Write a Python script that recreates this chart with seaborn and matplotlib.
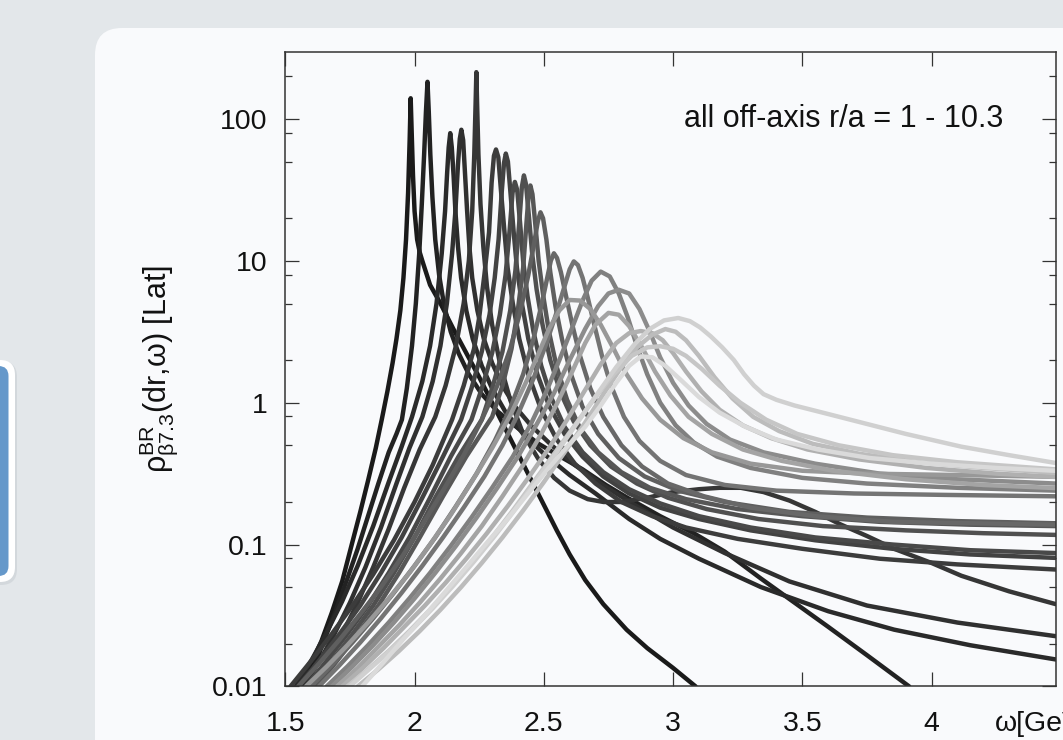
import matplotlib
matplotlib.use("Agg")
import matplotlib.pyplot as plt
from matplotlib.patches import FancyBboxPatch
from matplotlib.ticker import FixedLocator, LogLocator, NullFormatter
import numpy as np
import pandas as pd
import seaborn as sns

# Spectral functions, one per off-axis separation (small r/a -> large r/a).
# omega_XX: frequency in GeV; lg_XX: log10 of rho at that frequency.
omega_01 = [1.56, 1.60, 1.64, 1.68, 1.72, 1.757, 1.79, 1.82, 1.85, 1.873, 1.895, 1.915, 1.93, 1.945, 1.957,
            1.967, 1.975, 1.981, 1.985, 1.989, 1.994, 2.0, 2.01, 2.02, 2.03, 2.06, 2.1, 2.15, 2.2, 2.25,
            2.3, 2.35, 2.4, 2.45, 2.5, 2.55, 2.6, 2.66, 2.73, 2.82, 2.9, 3.0, 3.087]
lg_01 = [-2, -1.84, -1.68, -1.48, -1.26, -1.0, -0.77, -0.55, -0.32, -0.12, 0.08, 0.28, 0.45, 0.65, 0.88,
         1.15, 1.48, 1.85, 2.146, 1.9, 1.6, 1.35, 1.15, 1.06, 1.0, 0.83, 0.70, 0.52, 0.35, 0.18,
         0.0, -0.18, -0.36, -0.54, -0.72, -0.9, -1.07, -1.25, -1.42, -1.6, -1.73, -1.87, -2.0]

omega_02 = [1.58, 1.62, 1.66, 1.70, 1.74, 1.78, 1.82, 1.86, 1.90, 1.93, 1.951, 1.97, 1.99, 2.005, 2.018,
            2.028, 2.037, 2.044, 2.05, 2.055, 2.061, 2.069, 2.08, 2.095, 2.115, 2.14, 2.17, 2.21, 2.26, 2.32,
            2.4, 2.48, 2.564, 2.65, 2.74, 2.823, 2.95, 3.08, 3.2, 3.34, 3.47, 3.6, 3.75, 3.913]
lg_02 = [-2, -1.82, -1.63, -1.44, -1.24, -1.03, -0.8, -0.57, -0.35, -0.22, -0.12, 0.1, 0.4, 0.7, 1.05,
         1.4, 1.75, 2.05, 2.262, 2.05, 1.75, 1.45, 1.15, 0.9, 0.68, 0.5, 0.35, 0.2, 0.06, -0.06,
         -0.18, -0.29, -0.38, -0.47, -0.58, -0.67, -0.8, -0.92, -1.05, -1.24, -1.41, -1.58, -1.78, -2.0]

omega_03 = [1.54, 1.60, 1.66, 1.72, 1.78, 1.84, 1.90, 1.95, 1.99, 2.03, 2.06, 2.085, 2.105, 2.118, 2.126,
            2.132, 2.138, 2.144, 2.151, 2.158, 2.168, 2.18, 2.2, 2.225, 2.26, 2.3, 2.35, 2.42, 2.5, 2.6,
            2.7, 2.83, 2.95, 3.1, 3.34, 3.6, 3.855, 4.15, 4.48]
lg_03 = [-2, -1.82, -1.62, -1.40, -1.15, -0.87, -0.56, -0.31, -0.1, 0.15, 0.4, 0.7, 1.05, 1.35, 1.62,
         1.8, 1.9, 1.8, 1.6, 1.35, 1.1, 0.88, 0.65, 0.45, 0.26, 0.1, -0.06, -0.22, -0.36, -0.51,
         -0.64, -0.82, -0.96, -1.1, -1.3, -1.47, -1.6, -1.71, -1.81]

omega_04 = [1.57, 1.63, 1.69, 1.75, 1.81, 1.87, 1.93, 1.98, 2.03, 2.07, 2.1, 2.125, 2.145, 2.158, 2.168,
            2.175, 2.181, 2.188, 2.195, 2.203, 2.212, 2.223, 2.243, 2.268, 2.3, 2.34, 2.39, 2.45, 2.53, 2.62,
            2.72, 2.85, 3.0, 3.2, 3.45, 3.75, 4.1, 4.48]
lg_04 = [-2, -1.83, -1.63, -1.41, -1.16, -0.88, -0.57, -0.32, -0.1, 0.15, 0.4, 0.7, 1.05, 1.35, 1.68,
         1.86, 1.924, 1.85, 1.62, 1.36, 1.1, 0.88, 0.65, 0.45, 0.28, 0.12, -0.03, -0.16, -0.3, -0.44,
         -0.57, -0.72, -0.88, -1.06, -1.26, -1.43, -1.55, -1.646]

omega_05 = [1.60, 1.66, 1.72, 1.78, 1.84, 1.9, 1.96, 2.02, 2.08, 2.12, 2.16, 2.19, 2.21, 2.223, 2.231,
            2.236, 2.239, 2.242, 2.247, 2.255, 2.266, 2.28, 2.3, 2.33, 2.37, 2.42, 2.48, 2.54, 2.6, 2.67,
            2.731, 2.8, 2.9, 3.0, 3.1, 3.18, 3.262, 3.35, 3.45, 3.55, 3.65, 3.75, 3.855, 4.0, 4.115,
            4.3, 4.48]
lg_05 = [-2, -1.83, -1.63, -1.41, -1.16, -0.89, -0.6, -0.33, -0.1, 0.12, 0.4, 0.7, 1.0, 1.35, 1.75,
         2.1, 2.33, 2.1, 1.75, 1.4, 1.1, 0.82, 0.55, 0.28, 0.02, -0.22, -0.4, -0.53, -0.62, -0.68,
         -0.7, -0.7, -0.67, -0.63, -0.61, -0.6, -0.6, -0.63, -0.69, -0.77, -0.86, -0.94, -1.03, -1.13, -1.22,
         -1.33, -1.42]

omega_06 = [1.52, 1.6, 1.68, 1.76, 1.84, 1.92, 2.0, 2.07, 2.145, 2.19, 2.23, 2.25, 2.27, 2.288, 2.298,
            2.307, 2.315, 2.324, 2.334, 2.347, 2.36, 2.38, 2.405, 2.44, 2.49, 2.55, 2.62, 2.7, 2.8, 2.92,
            3.05, 3.25, 3.5, 3.8, 4.1, 4.48]
lg_06 = [-2, -1.82, -1.63, -1.43, -1.21, -0.97, -0.7, -0.44, -0.12, 0.12, 0.38, 0.6, 0.9, 1.2, 1.55,
         1.74, 1.785, 1.73, 1.5, 1.22, 0.95, 0.7, 0.45, 0.2, -0.05, -0.26, -0.43, -0.57, -0.7, -0.8,
         -0.88, -0.96, -1.03, -1.1, -1.14, -1.176]

omega_07 = [1.55, 1.63, 1.71, 1.79, 1.87, 1.95, 2.03, 2.11, 2.18, 2.22, 2.26, 2.29, 2.31, 2.325, 2.337,
            2.346, 2.353, 2.361, 2.371, 2.383, 2.396, 2.415, 2.44, 2.475, 2.52, 2.58, 2.65, 2.73, 2.83, 2.95,
            3.1, 3.3, 3.55, 3.85, 4.15, 4.48]
lg_07 = [-2, -1.82, -1.63, -1.43, -1.2, -0.95, -0.67, -0.38, -0.12, 0.1, 0.36, 0.62, 0.88, 1.15, 1.48,
         1.69, 1.756, 1.7, 1.48, 1.21, 0.95, 0.7, 0.45, 0.2, -0.02, -0.22, -0.38, -0.52, -0.64, -0.74,
         -0.82, -0.9, -0.97, -1.03, -1.07, -1.094]

omega_08 = [1.58, 1.66, 1.74, 1.82, 1.9, 1.98, 2.06, 2.14, 2.22, 2.26, 2.3, 2.33, 2.352, 2.368, 2.379,
            2.388, 2.397, 2.408, 2.42, 2.437, 2.46, 2.49, 2.53, 2.58, 2.65, 2.73, 2.83, 2.95, 3.1, 3.3,
            3.55, 3.85, 4.15, 4.48]
lg_08 = [-2, -1.82, -1.63, -1.43, -1.2, -0.95, -0.67, -0.38, -0.12, 0.1, 0.35, 0.62, 0.9, 1.22, 1.48,
         1.556, 1.5, 1.27, 1.0, 0.75, 0.5, 0.26, 0.03, -0.17, -0.35, -0.49, -0.61, -0.71, -0.8, -0.88,
         -0.95, -1.0, -1.04, -1.06]

omega_09 = [1.6, 1.68, 1.76, 1.84, 1.92, 2.0, 2.08, 2.17, 2.26, 2.3, 2.34, 2.37, 2.39, 2.405, 2.415,
            2.423, 2.431, 2.442, 2.455, 2.472, 2.495, 2.525, 2.565, 2.615, 2.68, 2.76, 2.86, 2.98, 3.13, 3.33,
            3.58, 3.9, 4.2, 4.48]
lg_09 = [-2, -1.82, -1.63, -1.43, -1.2, -0.95, -0.67, -0.38, -0.12, 0.1, 0.36, 0.65, 0.93, 1.27, 1.52,
         1.602, 1.54, 1.32, 1.05, 0.8, 0.55, 0.3, 0.07, -0.13, -0.3, -0.45, -0.57, -0.67, -0.75, -0.82,
         -0.87, -0.9, -0.92, -0.932]

omega_10 = [1.62, 1.7, 1.78, 1.86, 1.94, 2.02, 2.11, 2.2, 2.3, 2.34, 2.375, 2.4, 2.42, 2.433, 2.441,
            2.448, 2.456, 2.467, 2.48, 2.498, 2.52, 2.55, 2.59, 2.64, 2.71, 2.8, 2.91, 3.05, 3.25, 3.5,
            3.8, 4.15, 4.48]
lg_10 = [-2, -1.82, -1.63, -1.43, -1.2, -0.95, -0.66, -0.38, -0.1, 0.12, 0.38, 0.66, 0.95, 1.27, 1.46,
         1.531, 1.47, 1.26, 1.0, 0.75, 0.5, 0.25, 0.02, -0.18, -0.35, -0.49, -0.6, -0.68, -0.75, -0.8,
         -0.84, -0.86, -0.87]

omega_11 = [1.55, 1.63, 1.71, 1.79, 1.87, 1.95, 2.03, 2.11, 2.19, 2.26, 2.32, 2.37, 2.41, 2.44, 2.462,
            2.477, 2.487, 2.497, 2.51, 2.525, 2.545, 2.57, 2.605, 2.65, 2.71, 2.79, 2.89, 3.02, 3.2, 3.45,
            3.75, 4.1, 4.48]
lg_11 = [-2, -1.84, -1.67, -1.49, -1.3, -1.09, -0.86, -0.62, -0.37, -0.12, 0.12, 0.38, 0.65, 0.9, 1.12,
         1.28, 1.342, 1.3, 1.15, 0.92, 0.68, 0.45, 0.2, -0.03, -0.22, -0.39, -0.52, -0.62, -0.7, -0.77,
         -0.81, -0.835, -0.85]

omega_12 = [1.6, 1.68, 1.76, 1.84, 1.92, 2.0, 2.08, 2.16, 2.24, 2.31, 2.37, 2.42, 2.46, 2.49, 2.512,
            2.527, 2.539, 2.551, 2.566, 2.585, 2.61, 2.64, 2.68, 2.73, 2.8, 2.88, 2.98, 3.12, 3.3, 3.55,
            3.85, 4.15, 4.48]
lg_12 = [-2, -1.85, -1.69, -1.52, -1.34, -1.15, -0.95, -0.73, -0.5, -0.27, -0.04, 0.2, 0.45, 0.68, 0.87,
         1.0, 1.053, 1.02, 0.92, 0.76, 0.55, 0.33, 0.1, -0.1, -0.3, -0.45, -0.57, -0.66, -0.74, -0.8,
         -0.84, -0.85, -0.86]

omega_13 = [1.63, 1.71, 1.79, 1.87, 1.95, 2.03, 2.11, 2.19, 2.27, 2.34, 2.4, 2.46, 2.51, 2.55, 2.58,
            2.6, 2.616, 2.632, 2.65, 2.67, 2.695, 2.725, 2.76, 2.81, 2.87, 2.95, 3.05, 3.2, 3.4, 3.7,
            4.05, 4.48]
lg_13 = [-2, -1.85, -1.69, -1.52, -1.34, -1.15, -0.95, -0.74, -0.52, -0.3, -0.08, 0.17, 0.42, 0.64, 0.82,
         0.94, 0.996, 0.97, 0.88, 0.74, 0.55, 0.33, 0.12, -0.1, -0.27, -0.41, -0.51, -0.58, -0.62, -0.64,
         -0.65, -0.66]

omega_14 = [1.66, 1.74, 1.82, 1.9, 1.98, 2.06, 2.14, 2.22, 2.3, 2.38, 2.45, 2.51, 2.56, 2.61, 2.65,
            2.685, 2.72, 2.755, 2.79, 2.825, 2.86, 2.9, 2.95, 3.01, 3.08, 3.17, 3.3, 3.5, 3.75, 4.1,
            4.48]
lg_14 = [-2, -1.86, -1.71, -1.55, -1.38, -1.2, -1.01, -0.81, -0.6, -0.38, -0.15, 0.08, 0.3, 0.53, 0.72,
         0.86, 0.924, 0.89, 0.77, 0.6, 0.4, 0.2, 0.0, -0.16, -0.28, -0.38, -0.46, -0.53, -0.57, -0.6,
         -0.62]

omega_15 = [1.68, 1.76, 1.84, 1.92, 2.0, 2.08, 2.16, 2.24, 2.32, 2.4, 2.47, 2.54, 2.6, 2.66, 2.71,
            2.75, 2.79, 2.83, 2.87, 2.91, 2.95, 3.0, 3.06, 3.13, 3.22, 3.35, 3.55, 3.8, 4.1, 4.48]
lg_15 = [-2, -1.86, -1.71, -1.55, -1.38, -1.2, -1.01, -0.81, -0.6, -0.38, -0.16, 0.07, 0.3, 0.52, 0.68,
         0.77, 0.796, 0.77, 0.66, 0.5, 0.32, 0.14, -0.02, -0.15, -0.26, -0.35, -0.43, -0.5, -0.54, -0.57]

omega_16 = [1.58, 1.66, 1.74, 1.82, 1.9, 1.98, 2.06, 2.14, 2.22, 2.3, 2.37, 2.43, 2.48, 2.52, 2.56,
            2.6, 2.64, 2.68, 2.72, 2.77, 2.82, 2.88, 2.95, 3.04, 3.15, 3.3, 3.5, 3.75, 4.1, 4.48]
lg_16 = [-2, -1.86, -1.71, -1.55, -1.38, -1.2, -1.0, -0.79, -0.56, -0.32, -0.09, 0.14, 0.35, 0.52, 0.65,
         0.724, 0.72, 0.66, 0.55, 0.38, 0.2, 0.03, -0.12, -0.25, -0.35, -0.43, -0.48, -0.5, -0.51, -0.523]

omega_17 = [1.7, 1.78, 1.86, 1.94, 2.02, 2.1, 2.18, 2.26, 2.34, 2.42, 2.49, 2.55, 2.61, 2.66, 2.7,
            2.75, 2.79, 2.83, 2.88, 2.93, 2.99, 3.06, 3.15, 3.27, 3.42, 3.62, 3.9, 4.2, 4.48]
lg_17 = [-2, -1.87, -1.72, -1.57, -1.41, -1.24, -1.06, -0.87, -0.66, -0.44, -0.22, -0.01, 0.22, 0.42, 0.55,
         0.633, 0.62, 0.54, 0.39, 0.22, 0.05, -0.1, -0.22, -0.33, -0.41, -0.48, -0.54, -0.58, -0.602]

omega_18 = [1.72, 1.8, 1.88, 1.96, 2.04, 2.12, 2.2, 2.28, 2.36, 2.44, 2.52, 2.59, 2.66, 2.72, 2.78,
            2.83, 2.875, 2.92, 2.96, 3.0, 3.05, 3.11, 3.18, 3.27, 3.38, 3.52, 3.72, 3.98, 4.25, 4.48]
lg_18 = [-2, -1.87, -1.73, -1.58, -1.43, -1.27, -1.1, -0.92, -0.73, -0.53, -0.32, -0.12, 0.09, 0.27, 0.42,
         0.49, 0.505, 0.49, 0.44, 0.35, 0.22, 0.08, -0.05, -0.16, -0.25, -0.33, -0.4, -0.46, -0.5, -0.523]

omega_19 = [1.78, 1.86, 1.94, 2.02, 2.1, 2.18, 2.26, 2.34, 2.42, 2.5, 2.58, 2.66, 2.73, 2.8, 2.86,
            2.92, 2.97, 3.01, 3.05, 3.1, 3.16, 3.23, 3.31, 3.41, 3.54, 3.72, 3.95, 4.2, 4.48]
lg_19 = [-2, -1.88, -1.75, -1.61, -1.46, -1.3, -1.13, -0.95, -0.76, -0.56, -0.35, -0.14, 0.06, 0.25, 0.39,
         0.48, 0.519, 0.5, 0.44, 0.33, 0.18, 0.03, -0.1, -0.2, -0.29, -0.36, -0.42, -0.46, -0.495]

omega_20 = [1.74, 1.82, 1.9, 1.98, 2.06, 2.14, 2.22, 2.3, 2.38, 2.46, 2.54, 2.62, 2.7, 2.77, 2.84,
            2.9, 2.95, 3.0, 3.05, 3.11, 3.18, 3.26, 3.36, 3.48, 3.64, 3.85, 4.1, 4.48]
lg_20 = [-2, -1.88, -1.75, -1.61, -1.46, -1.3, -1.13, -0.95, -0.76, -0.56, -0.36, -0.16, 0.04, 0.2, 0.33,
         0.39, 0.398, 0.38, 0.33, 0.24, 0.12, 0.0, -0.12, -0.22, -0.3, -0.37, -0.42, -0.47]

omega_21 = [1.75, 1.83, 1.91, 1.99, 2.07, 2.15, 2.23, 2.31, 2.39, 2.47, 2.55, 2.63, 2.71, 2.78, 2.85,
            2.91, 2.965, 3.02, 3.065, 3.105, 3.146, 3.19, 3.235, 3.275, 3.313, 3.35, 3.4, 3.47, 3.6, 3.75,
            3.9, 4.115, 4.3, 4.48]
lg_21 = [-2, -1.87, -1.74, -1.6, -1.45, -1.29, -1.12, -0.94, -0.75, -0.55, -0.35, -0.14, 0.07, 0.25, 0.41,
         0.52, 0.58, 0.597, 0.575, 0.53, 0.467, 0.39, 0.301, 0.2, 0.12, 0.06, 0.02, -0.02, -0.08, -0.15,
         -0.22, -0.31, -0.37, -0.425]

omega_22 = [1.797, 1.88, 1.96, 2.04, 2.12, 2.2, 2.274, 2.35, 2.43, 2.51, 2.59, 2.66, 2.72, 2.78, 2.83,
            2.875, 2.92, 2.97, 3.03, 3.1, 3.18, 3.28, 3.4, 3.56, 3.76, 4.0, 4.25, 4.48]
lg_22 = [-2, -1.83, -1.66, -1.5, -1.33, -1.16, -1.0, -0.84, -0.66, -0.48, -0.31, -0.17, -0.02, 0.14, 0.26,
         0.326, 0.32, 0.26, 0.16, 0.04, -0.07, -0.17, -0.26, -0.33, -0.39, -0.43, -0.46, -0.48]

curves = [
    ("r01", omega_01, lg_01), ("r02", omega_02, lg_02), ("r03", omega_03, lg_03),
    ("r04", omega_04, lg_04), ("r05", omega_05, lg_05), ("r06", omega_06, lg_06),
    ("r07", omega_07, lg_07), ("r08", omega_08, lg_08), ("r09", omega_09, lg_09),
    ("r10", omega_10, lg_10), ("r11", omega_11, lg_11), ("r12", omega_12, lg_12),
    ("r13", omega_13, lg_13), ("r14", omega_14, lg_14), ("r15", omega_15, lg_15),
    ("r16", omega_16, lg_16), ("r17", omega_17, lg_17), ("r18", omega_18, lg_18),
    ("r19", omega_19, lg_19), ("r20", omega_20, lg_20), ("r21", omega_21, lg_21),
    ("r22", omega_22, lg_22),
]

grays = ["#1a1a1a", "#222222", "#2a2a2a", "#303030", "#363636", "#3c3c3c", "#424242", "#494949",
         "#505050", "#575757", "#5f5f5f", "#686868", "#747474", "#808080", "#8c8c8c", "#989898",
         "#a4a4a4", "#b0b0b0", "#bcbcbc", "#c6c6c6", "#d0d0d0", "#dadada"]

x_ticks = [1.5, 2, 2.5, 3, 3.5, 4]
x_tick_labels = ["1.5", "2", "2.5", "3", "3.5", "4"]
y_ticks = [0.01, 0.1, 1, 10, 100]
y_tick_labels = ["0.01", "0.1", "1", "10", "100"]

frames = []
for name, om, lg in curves:
    assert len(om) == len(lg), name
    frames.append(pd.DataFrame({"curve": name, "omega": om, "rho": 10.0 ** np.asarray(lg)}))
df = pd.concat(frames, ignore_index=True)

sns.set_style("ticks")
plt.rcParams["font.family"] = ["Liberation Sans", "DejaVu Sans"]
plt.rcParams["mathtext.fontset"] = "custom"
plt.rcParams["mathtext.rm"] = "Liberation Sans"
plt.rcParams["mathtext.it"] = "Liberation Sans:italic"
plt.rcParams["mathtext.bf"] = "Liberation Sans:bold"

W, H = 1063, 740
fig = plt.figure(figsize=(W / 100, H / 100), dpi=100, facecolor="#e3e7ea")

# slide decorations: side tab and content panel
fig.add_artist(FancyBboxPatch((-0.45, 1.55), 0.62, 2.24, boxstyle="round,pad=0,rounding_size=0.16",
                              transform=fig.dpi_scale_trans, facecolor="#c9ced3", edgecolor="none",
                              alpha=0.6, zorder=0))
fig.add_artist(FancyBboxPatch((-0.5, 1.58), 0.65, 2.22, boxstyle="round,pad=0,rounding_size=0.15",
                              transform=fig.dpi_scale_trans, facecolor="white", edgecolor="none", zorder=0))
fig.add_artist(FancyBboxPatch((-0.5, 1.64), 0.585, 2.10, boxstyle="round,pad=0,rounding_size=0.1",
                              transform=fig.dpi_scale_trans, facecolor="#6598ca", edgecolor="none", zorder=0))
fig.add_artist(FancyBboxPatch((0.95, -1.0), 11.0, 8.12, boxstyle="round,pad=0,rounding_size=0.27",
                              transform=fig.dpi_scale_trans, facecolor="#f9fafc", edgecolor="none", zorder=0))

ax_left, ax_right, ax_top, ax_bot = 285.3, 1055.7, 51.7, 686.4
ax = fig.add_axes([ax_left / W, (H - ax_bot) / H, (ax_right - ax_left) / W, (ax_bot - ax_top) / H])
ax.set_facecolor("none")

sns.lineplot(data=df, x="omega", y="rho", hue="curve", hue_order=[c[0] for c in curves],
             palette=grays, sort=False, estimator=None, legend=False, linewidth=3.2,
             solid_capstyle="round", solid_joinstyle="round", ax=ax)

ax.set_yscale("log")
ax.set_xlim(1.5, 4.48)
ax.set_ylim(0.01, 298)

ax.xaxis.set_major_locator(FixedLocator(x_ticks))
ax.set_xticklabels(x_tick_labels)
ax.yaxis.set_major_locator(FixedLocator(y_ticks))
ax.set_yticklabels(y_tick_labels)
ax.yaxis.set_minor_locator(LogLocator(base=10, subs=(2, 5, 8)))
ax.yaxis.set_minor_formatter(NullFormatter())

for sp in ax.spines.values():
    sp.set_color("#333333")
    sp.set_linewidth(1.1)
ax.tick_params(which="both", direction="in", top=True, right=True, color="#333333", width=0.9,
               labelsize=20.5, labelcolor="#111111")
ax.tick_params(which="major", length=10)
ax.tick_params(which="minor", length=5)
ax.tick_params(axis="x", pad=17.5)
ax.tick_params(axis="y", pad=13)

ax.set_xlabel("")
ax.set_ylabel("ρ$^{\\mathrm{BR}}_{\\mathrm{β7.3}}$(dr,ω) [Lat]", fontsize=22, color="#111111")
ax.yaxis.set_label_coords(-0.137, 0.5)

ax.text(4.278, 100, "all off-axis r/a = 1 - 10.3", ha="right", va="center", fontsize=22,
        color="#111111")
fig.text(995 / W, (H - 731) / H, "ω[GeV]", ha="left", va="baseline", fontsize=20.5, color="#111111")

fig.savefig("out.png", dpi=100, facecolor=fig.get_facecolor())
